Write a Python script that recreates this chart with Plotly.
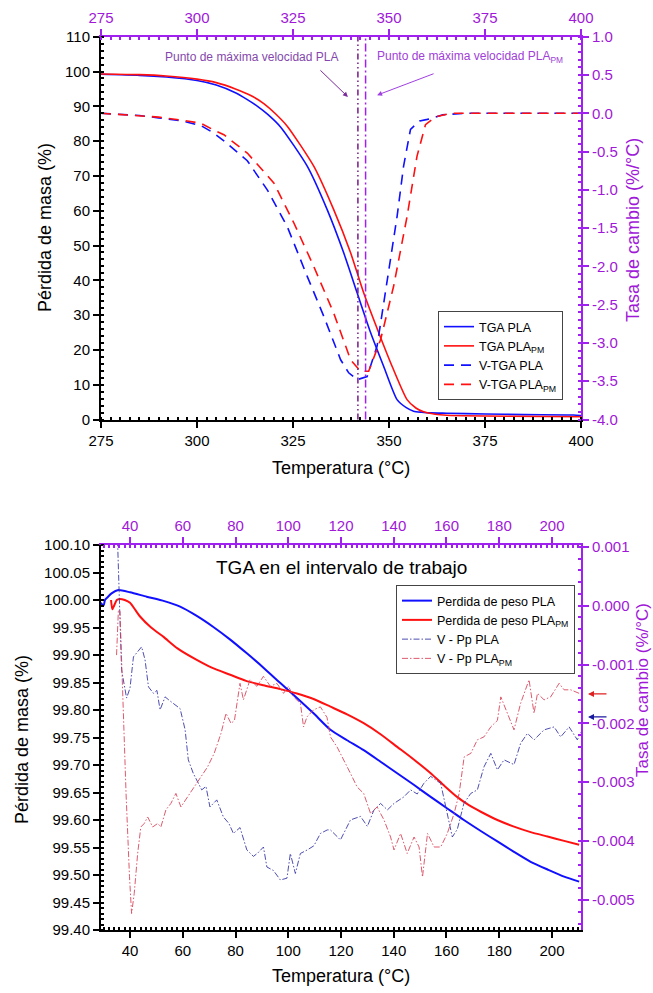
import plotly.graph_objects as go

# ------------------------- TOP CHART DATA (275-400 °C) -------------------------
tga_pla_T = [275, 285, 292, 300, 305, 310, 313, 315.5, 318.5, 321.8, 328.7, 333.9, 338.2, 341.7,
             345.2, 348.6, 352.1, 354.5, 356.4, 358.5, 360.8, 365, 375, 385, 398, 400]
tga_pla = [99.2, 98.9, 98.4, 97.4, 96.1, 93.9, 92.0, 90.2, 87.6, 84.0, 72.8, 60.3, 47.9, 36.4,
           25.0, 15.3, 5.7, 3.4, 2.4, 2.1, 1.9, 1.8, 1.6, 1.4, 1.3, 1.1]

tga_pm_T = [275, 285, 292, 300, 305, 310, 314, 317.4, 320.5, 323.5, 330.4, 335.6, 340.0, 343.4,
            347.3, 350.8, 354.7, 357, 359.0, 362, 365, 375, 400]
tga_pm = [99.3, 99.1, 98.7, 97.8, 96.8, 95.0, 93.1, 90.8, 87.8, 84.3, 72.8, 60.3, 47.9, 36.4,
          25.0, 15.3, 5.7, 3.3, 2.2, 1.5, 1.2, 1.0, 0.8]

dtga_pla_T = [275, 285, 290, 296, 301, 304.4, 307, 313.1, 318.3, 323.5, 328.7, 333.0, 337.4,
              339.5, 341.7, 344.3, 346.9, 349.5, 352.1, 353.8, 355.6, 358, 360, 364, 370, 400]
dtga_pla = [0, -0.03, -0.06, -0.1, -0.16, -0.26, -0.36, -0.62, -1.0, -1.48, -2.13, -2.65, -3.22,
            -3.39, -3.48, -3.44, -3.04, -2.22, -1.35, -0.69, -0.21, -0.1, -0.08, -0.02, 0, 0]

dtga_pm_T = [275, 285, 290, 296, 301, 304.4, 307, 313.1, 320.0, 325.2, 330.4, 335.6, 340.0,
             342.6, 344.7, 347.8, 351.2, 354.7, 357.3, 359.5, 362, 366, 400]
dtga_pm = [0, -0.03, -0.05, -0.09, -0.13, -0.22, -0.28, -0.52, -0.91, -1.43, -2.0, -2.61, -3.22,
           -3.37, -3.37, -2.96, -2.26, -1.35, -0.56, -0.15, -0.05, 0, 0]

peak_T = [341.9, 343.9]  # max-rate temperatures PLA, PLA_PM

top_x_ticks = [275, 300, 325, 350, 375, 400]
top_left_ticks = [0, 10, 20, 30, 40, 50, 60, 70, 80, 90, 100, 110]
top_right_ticks = [-4.0, -3.5, -3.0, -2.5, -2.0, -1.5, -1.0, -0.5, 0.0, 0.5, 1.0]

# ----------------------- BOTTOM CHART DATA (working range) ----------------------
pp_pla_T = [28.8, 30, 30.5, 31.5, 33, 35.6, 40, 46.3, 53, 59, 65, 71.6, 78, 84.3, 90.6, 97,
            103.3, 109.6, 116, 122.3, 128.6, 135, 141.3, 147.6, 154, 160.3, 166.6, 173,
            179.3, 185.6, 191.9, 198.3, 204.6, 210.3]
pp_pla = [99.995, 99.99, 100.0, 100.005, 100.012, 100.018, 100.014, 100.006, 99.998, 99.988,
          99.972, 99.951, 99.928, 99.903, 99.877, 99.849, 99.822, 99.794, 99.764, 99.745,
          99.727, 99.706, 99.685, 99.664, 99.642, 99.621, 99.600, 99.580, 99.561, 99.542,
          99.524, 99.510, 99.497, 99.488]

pp_pm_T = [32.8, 33.3, 34.0, 35, 36, 38, 40, 42, 43.8, 48, 52.7, 58, 65.3, 71, 78, 84, 90.6,
           97, 103.3, 109.6, 116, 122.3, 128.6, 135, 141.3, 147.6, 154, 159, 164, 168.5, 173,
           179.3, 185.6, 191.9, 198.3, 204.6, 210.3]
pp_pm = [100.0, 99.983, 99.99, 100.0, 100.002, 100.0, 99.995, 99.982, 99.970, 99.950, 99.933,
         99.912, 99.891, 99.877, 99.864, 99.853, 99.845, 99.838, 99.830, 99.820, 99.806,
         99.792, 99.776, 99.756, 99.733, 99.710, 99.685, 99.663, 99.642, 99.627, 99.615,
         99.600, 99.588, 99.578, 99.570, 99.562, 99.555]

vpp_pla_T = [35.0, 35.6, 36.8, 38.7, 40.0, 41.3, 43.2, 44.4, 45.7, 47.0, 48.9, 50.2, 51.4, 53.3,
             55.2, 57.8, 59.0, 60.9, 62.1, 64.0, 65.3, 67.2, 68.8, 70.3, 72.9, 75.4, 77.5,
             79.2, 81.7, 84.3, 86.8, 88.5, 90.6, 91.9, 94.4, 97.0, 99.5, 100.8, 102.7, 104.6,
             107.2, 109.7, 112.2, 114.8, 116, 119.8, 123.6, 127.4, 130, 132.5, 135, 137.6,
             140.1, 143.8, 146.4, 148.9, 151.4, 154, 157.8, 160.3, 162.2, 164.1, 166.6, 169.2,
             171.7, 174.2, 176.8, 179.3, 181.8, 185.6, 188.1, 190.7, 193.2, 197, 200.8, 203.3,
             206.5, 209.6, 211]
vpp_pla = [1.5, 0.5, -1.09, -1.57, -1.40, -0.87, -0.77, -0.70, -0.92, -1.38, -1.49, -1.44,
           -1.77, -1.55, -1.62, -1.72, -1.75, -2.11, -2.62, -2.85, -2.96, -3.13, -3.07, -3.42,
           -3.30, -3.59, -3.70, -3.87, -3.77, -4.15, -4.26, -4.20, -4.10, -4.44, -4.50, -4.66,
           -4.63, -4.21, -4.55, -4.21, -4.15, -4.08, -3.87, -3.81, -3.81, -3.98, -3.64, -3.58,
           -3.75, -3.47, -3.36, -3.47, -3.36, -3.25, -3.13, -3.20, -3.02, -2.90, -3.02, -3.53,
           -3.93, -3.80, -3.36, -3.19, -3.13, -2.74, -2.51, -2.79, -2.62, -2.70, -2.34, -2.17,
           -2.28, -2.11, -2.06, -2.23, -2.06, -2.28, -2.15]

vpp_pm_T = [34.9, 35.6, 36.2, 37.2, 38.5, 39.8, 40.6, 41.6, 42.9, 44.1, 45.4, 46.7, 48.6, 50.5,
            51.7, 53.6, 55.5, 57.4, 59.3, 61.8, 64.4, 66.9, 69.4, 71.9, 74.5, 76.4, 78.3, 79.6,
            81.7, 83.0, 85.5, 88.1, 90.6, 93.2, 95.7, 98.2, 100.1, 102.0, 104.6, 105.8, 107.1,
            109.6, 112.2, 114.7, 116, 118.5, 121.1, 123.6, 126.1, 128.6, 131.2, 133.7, 136.3,
            138.8, 140.1, 142.6, 145.1, 147.7, 149.6, 150.9, 152.8, 155.3, 157.8, 160.3, 162.9,
            164.8, 166.7, 169.2, 171.7, 174.2, 176.8, 179.3, 180.6, 183.1, 185.6, 188.1, 191.3,
            193.2, 194.5, 197, 199.5, 202.7, 204.6, 207.1, 210.3]
vpp_pm = [-0.84, -0.07, -0.10, -1.48, -3.19, -4.60, -5.23, -4.89, -4.21, -3.76, -3.70, -3.59,
          -3.76, -3.70, -3.76, -3.47, -3.36, -3.19, -3.42, -3.25, -3.08, -2.90, -2.74, -2.51,
          -2.17, -1.83, -2.00, -1.95, -1.32, -1.60, -1.26, -1.37, -1.20, -1.37, -1.32, -1.49,
          -1.37, -1.55, -1.66, -2.06, -1.89, -1.77, -1.72, -1.90, -2.23, -2.40, -2.62, -2.85,
          -3.08, -3.19, -3.53, -3.42, -3.64, -3.93, -4.15, -3.87, -4.21, -3.93, -4.10, -4.61,
          -3.87, -4.10, -4.10, -3.87, -3.53, -3.19, -2.57, -2.51, -2.28, -2.23, -2.06, -1.95,
          -1.55, -1.83, -2.11, -1.66, -1.26, -1.83, -1.49, -1.60, -1.55, -1.32, -1.43, -1.43,
          -1.49]
# rates were read in units of 1e-3 %/°C
vpp_pla = [v * 1e-3 for v in vpp_pla]
vpp_pm = [v * 1e-3 for v in vpp_pm]

end_rates = [-0.0015, -0.00189]  # arrow marks: PLA_PM, PLA

bot_x_ticks = [40, 60, 80, 100, 120, 140, 160, 180, 200]
bot_left_ticks = [99.40, 99.45, 99.50, 99.55, 99.60, 99.65, 99.70, 99.75, 99.80, 99.85,
                  99.90, 99.95, 100.00, 100.05, 100.10]
bot_right_ticks = [-0.005, -0.004, -0.003, -0.002, -0.001, 0.000, 0.001]

# ------------------------------- STYLE ---------------------------------
W, H = 653, 993
PURPLE = "#a020f0"
PTEXT = "#a018d8"
FONT = "Arial, 'Liberation Sans', sans-serif"
XD = [101 / W, 581 / W]
TOP_Y = [1 - 419.5 / H, 1 - 36.7 / H]
BOT_Y = [1 - 930 / H, 1 - 545 / H]

fig = go.Figure()

# top chart
fig.add_trace(go.Scatter(x=tga_pla_T, y=tga_pla, mode="lines", name="TGA PLA",
                         line=dict(color="#1010ff", width=1.6, shape="spline", smoothing=0.6),
                         xaxis="x", yaxis="y", legend="legend"))
fig.add_trace(go.Scatter(x=tga_pm_T, y=tga_pm, mode="lines", name="TGA PLA<sub>PM</sub>",
                         line=dict(color="#ff1010", width=1.6, shape="spline", smoothing=0.6),
                         xaxis="x", yaxis="y", legend="legend"))
fig.add_trace(go.Scatter(x=dtga_pla_T, y=dtga_pla, mode="lines", name="V-TGA PLA",
                         line=dict(color="#1010ff", width=1.6, dash="10px,7px"),
                         xaxis="x2", yaxis="y2", legend="legend"))
fig.add_trace(go.Scatter(x=dtga_pm_T, y=dtga_pm, mode="lines", name="V-TGA PLA<sub>PM</sub>",
                         line=dict(color="#ff1010", width=1.6, dash="10px,7px"),
                         xaxis="x2", yaxis="y2", legend="legend"))

# bottom chart
fig.add_trace(go.Scatter(x=pp_pla_T, y=pp_pla, mode="lines", name="Perdida de peso PLA",
                         line=dict(color="#1010ff", width=2, shape="spline", smoothing=0.6),
                         xaxis="x3", yaxis="y3", legend="legend2"))
fig.add_trace(go.Scatter(x=pp_pm_T, y=pp_pm, mode="lines", name="Perdida de peso PLA<sub>PM</sub>",
                         line=dict(color="#ff1010", width=2, shape="spline", smoothing=0.6),
                         xaxis="x3", yaxis="y3", legend="legend2"))
fig.add_trace(go.Scatter(x=vpp_pla_T, y=vpp_pla, mode="lines", name="V - Pp PLA",
                         line=dict(color="#3a3aa8", width=0.9, dash="6px,2px,1.5px,2px"),
                         xaxis="x4", yaxis="y4", legend="legend2"))
fig.add_trace(go.Scatter(x=vpp_pm_T, y=vpp_pm, mode="lines", name="V - Pp PLA<sub>PM</sub>",
                         line=dict(color="#d8485e", width=0.9, dash="6px,2px,1.5px,2px"),
                         xaxis="x4", yaxis="y4", legend="legend2"))


def axis(color, tfcolor, **kw):
    d = dict(showline=True, linecolor=color, linewidth=2, showgrid=False, zeroline=False,
             ticks="outside", ticklen=6, tickwidth=1.5, tickcolor=color, automargin=False,
             tickfont=dict(family=FONT, size=15, color=tfcolor), tickmode="array")
    d.update(kw)
    return d


def labels(vals, fmt):
    return [format(v, fmt) for v in vals]


fig.update_layout(
    width=W, height=H, margin=dict(l=0, r=0, t=0, b=0, pad=0, autoexpand=False),
    paper_bgcolor="white", plot_bgcolor="white", font=dict(family=FONT, color="black"),
    xaxis=axis("black", "black", domain=XD, anchor="y", range=[275, 400],
               tickvals=top_x_ticks, ticktext=labels(top_x_ticks, "d"),
               minor=dict(dtick=2.5, tick0=275, ticks="inside", ticklen=3, tickcolor="black")),
    xaxis2=axis(PURPLE, PTEXT, overlaying="x", side="top", anchor="y", range=[275, 400],
                tickvals=top_x_ticks, ticktext=labels(top_x_ticks, "d"),
                minor=dict(dtick=2.5, tick0=275, ticks="inside", ticklen=3, tickcolor=PURPLE)),
    yaxis=axis("black", "black", domain=TOP_Y, anchor="x", range=[0, 110],
               tickvals=top_left_ticks, ticktext=labels(top_left_ticks, "d"),
               minor=dict(dtick=2, tick0=0, ticks="inside", ticklen=3, tickcolor="black")),
    yaxis2=axis(PURPLE, PTEXT, overlaying="y", side="right", anchor="x2", range=[-4, 1],
                tickvals=top_right_ticks, ticktext=labels(top_right_ticks, ".1f"),
                minor=dict(dtick=0.1, tick0=0, ticks="inside", ticklen=3, tickcolor=PURPLE)),
    xaxis3=axis("black", "black", domain=XD, anchor="y3", range=[29, 211],
                tickvals=bot_x_ticks, ticktext=labels(bot_x_ticks, "d"),
                minor=dict(dtick=2, tick0=0, ticks="inside", ticklen=3, tickcolor="black")),
    xaxis4=axis(PURPLE, PTEXT, overlaying="x3", side="top", anchor="y3", range=[29, 211],
                tickvals=bot_x_ticks, ticktext=labels(bot_x_ticks, "d"),
                minor=dict(dtick=2, tick0=0, ticks="inside", ticklen=3, tickcolor=PURPLE)),
    yaxis3=axis("black", "black", domain=BOT_Y, anchor="x3", range=[99.40, 100.10],
                tickvals=bot_left_ticks, ticktext=labels(bot_left_ticks, ".2f"),
                minor=dict(dtick=0.01, tick0=99.4, ticks="inside", ticklen=3, tickcolor="black")),
    yaxis4=axis(PURPLE, PTEXT, overlaying="y3", side="right", anchor="x4", range=[-0.00551, 0.00103],
                tickvals=bot_right_ticks, ticktext=labels(bot_right_ticks, ".3f"),
                minor=dict(dtick=0.0002, tick0=0, ticks="inside", ticklen=3, tickcolor=PURPLE)),
    legend=dict(x=438 / W, y=1 - 311 / H, xanchor="left", yanchor="top",
                bgcolor="white", bordercolor="#444", borderwidth=1,
                font=dict(family=FONT, size=12.5, color="black"), itemwidth=30,
                tracegroupgap=0),
    legend2=dict(x=396 / W, y=1 - 585 / H, xanchor="left", yanchor="top",
                 bgcolor="white", bordercolor="#444", borderwidth=1,
                 font=dict(family=FONT, size=12.5, color="black"), itemwidth=30,
                 tracegroupgap=0),
    showlegend=True,
)

# max-rate vertical markers (top chart)
peak_styles = [dict(color="#7a1a8a", dash="6px,3px,1.5px,3px,1.5px,3px"),
               dict(color=PURPLE, dash="8px,3px,2px,3px")]
for t, st in zip(peak_T, peak_styles):
    fig.add_shape(type="line", xref="x", yref="paper", x0=t, x1=t, y0=TOP_Y[0], y1=TOP_Y[1],
                  line=dict(color=st["color"], width=1.5, dash=st["dash"]))

C = dict(xanchor="center", yanchor="middle", showarrow=False)
ann = []
# annotation texts + arrows in top chart
ann.append(dict(x=314.3, y=104.2, xref="x", yref="y", **C,
                text="Punto de máxima velocidad PLA",
                font=dict(family=FONT, size=12, color="#8448ac")))
ann.append(dict(x=371.1, y=104.2, xref="x", yref="y", **C,
                text="Punto de máxima velocidad PLA<sub>PM</sub>",
                font=dict(family=FONT, size=12, color="#a040d8")))
ann.append(dict(x=339.3, y=92.7, xref="x", yref="y", text="", showarrow=True,
                ax=-29, ay=-28, arrowhead=2, arrowsize=1, arrowwidth=1, arrowcolor="#7a2a9a"))
ann.append(dict(x=346.9, y=93.2, xref="x", yref="y", text="", showarrow=True,
                ax=58, ay=-22, arrowhead=2, arrowsize=1, arrowwidth=1, arrowcolor="#a040e0"))

# arrows marking final rates (bottom chart)
for r, c in zip(end_rates, ["#e02020", "#1a1aa0"]):
    ann.append(dict(x=588 / W, y=r, xref="paper", yref="y4", text="", showarrow=True,
                    ax=20, ay=0, arrowhead=2, arrowsize=1, arrowwidth=1.2, arrowcolor=c))

# bottom title
ann.append(dict(x=342 / W, y=1 - 567 / H, xref="paper", yref="paper", **C,
                text="TGA en el intervalo de trabajo", font=dict(family=FONT, size=19, color="black")))

# axis titles
ann.append(dict(x=45 / W, y=1 - 228 / H, xref="paper", yref="paper", **C, textangle=-90,
                text="Pérdida de masa (%)", font=dict(family=FONT, size=18, color="black")))
ann.append(dict(x=22 / W, y=1 - 740 / H, xref="paper", yref="paper", **C, textangle=-90,
                text="Pérdida de masa (%)", font=dict(family=FONT, size=18, color="black")))
ann.append(dict(x=633 / W, y=1 - 230 / H, xref="paper", yref="paper", **C, textangle=-90,
                text="Tasa de cambio (%/°C)", font=dict(family=FONT, size=18, color=PTEXT)))
ann.append(dict(x=642 / W, y=1 - 690 / H, xref="paper", yref="paper", **C, textangle=-90,
                text="Tasa de cambio (%/°C)", font=dict(family=FONT, size=17, color=PTEXT)))
ann.append(dict(x=341 / W, y=1 - 468 / H, xref="paper", yref="paper", **C,
                text="Temperatura (°C)", font=dict(family=FONT, size=18, color="black")))
ann.append(dict(x=341 / W, y=1 - 976 / H, xref="paper", yref="paper", **C,
                text="Temperatura (°C)", font=dict(family=FONT, size=18, color="black")))

fig.update_layout(annotations=ann)

fig.write_html("out.html", config={"displayModeBar": False},
               post_script="document.body.style.margin='0px';document.body.style.padding='0px';")
